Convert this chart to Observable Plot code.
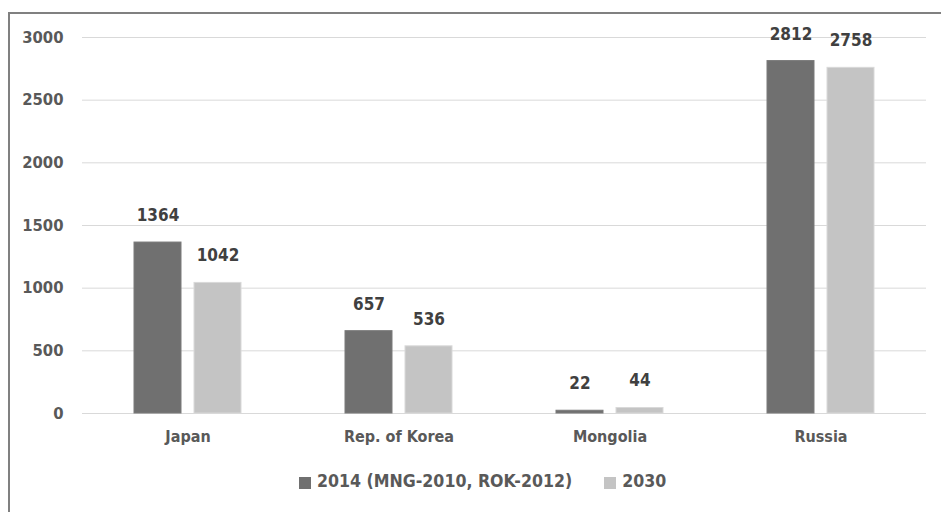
<!DOCTYPE html>
<html>
<head>
<meta charset="utf-8">
<script src="https://cdn.jsdelivr.net/npm/d3@7"></script>
<script src="https://cdn.jsdelivr.net/npm/@observablehq/plot@0.6"></script>
<style>
  html, body { margin: 0; padding: 0; background: #fff; }
  body { width: 941px; height: 512px; position: relative; overflow: hidden;
         font-family: "Liberation Sans Narrow", "DejaVu Sans Condensed", sans-serif; }
  #frame { position: absolute; left: 8px; top: 12px; width: 1000px; height: 600px;
           border-left: 2px solid #808080; border-top: 2px solid #808080; box-sizing: border-box; }
  #chart { position: absolute; left: 0; top: 0; }
  #legend { position: absolute; left: 299px; top: 471px; display: flex; align-items: center;
            font-size: 17.6px; font-weight: 700; color: #595959; }
  #legend .item { display: flex; align-items: center; }
  #legend .item + .item { margin-left: 32px; }
  #legend .sw { width: 12px; height: 12px; margin-right: 6px; margin-top: 3px; }
</style>
</head>
<body>
<div id="frame"></div>
<div id="chart"></div>
<div id="legend"></div>
<script>
// Countries along the x axis
const countries = ["Japan", "Rep. of Korea", "Mongolia", "Russia"];
// Series names (legend entries)
const series = ["2014 (MNG-2010, ROK-2012)", "2030"];
// Values per country, one array per series
const values2014 = [1364, 657, 22, 2812];
const values2030 = [1042, 536, 44, 2758];
// Y axis ticks
const yTicks = [0, 500, 1000, 1500, 2000, 2500, 3000];
const colors = ["#707070", "#c4c4c4"];

const rows = countries.flatMap((c, i) => [
  {country: c, series: series[0], value: values2014[i]},
  {country: c, series: series[1], value: values2030[i]}
]);

const font = "'Liberation Sans Narrow', 'DejaVu Sans Condensed', sans-serif";

const chart = Plot.plot({
  width: 941,
  height: 460,
  marginLeft: 81,
  marginRight: 14,
  marginTop: 37,
  marginBottom: 47,
  style: {fontFamily: font, background: "transparent"},
  fx: {domain: countries, padding: 0, label: null},
  x: {domain: series, paddingInner: 0.215, paddingOuter: 0.856, axis: null},
  y: {domain: [0, 3000], label: null},
  color: {domain: series, range: colors},
  marks: [
    Plot.gridY(yTicks, {stroke: "#d9d9d9", strokeOpacity: 1}),
    Plot.barY(rows, {
      fx: "country", x: "series", y: "value",
      fill: "series",
      stroke: d => d.series === series[1] ? "#d9d9d9" : "#7a7a7a",
      strokeWidth: 1
    }),
    Plot.text(rows, {
      fx: "country", x: "series", y: "value", text: d => String(d.value),
      dy: -27, fontSize: 17, fontWeight: 700, fill: "#404040"
    }),
    Plot.axisY(yTicks, {
      tickSize: 0, tickPadding: 19, fontSize: 16.5, fontWeight: 700,
      tickFormat: d => String(d), color: "#595959", label: null
    }),
    Plot.axisFx({
      anchor: "bottom",
      tickSize: 0, tickPadding: 17, fontSize: 16, fontWeight: 700,
      color: "#595959", label: null
    })
  ]
});
document.getElementById("chart").appendChild(chart);

const legend = document.getElementById("legend");
series.forEach((s, i) => {
  const item = document.createElement("div");
  item.className = "item";
  const sw = document.createElement("span");
  sw.className = "sw";
  sw.style.background = colors[i];
  const label = document.createElement("span");
  label.textContent = s;
  item.appendChild(sw);
  item.appendChild(label);
  legend.appendChild(item);
});
</script>
</body>
</html>
